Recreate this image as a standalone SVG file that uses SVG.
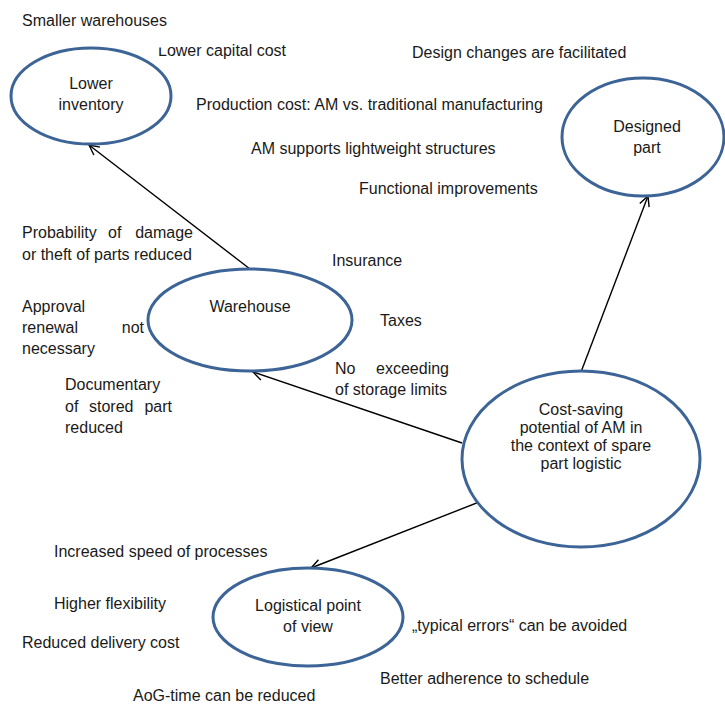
<svg xmlns="http://www.w3.org/2000/svg" width="725" height="704" viewBox="0 0 725 704">
  <style>
    text { font-family: "Liberation Sans", Arial, sans-serif; font-size: 16px; fill: #1a1a1a; }
    .c { text-anchor: middle; }
    .e { text-anchor: end; }
    .node ellipse { fill: #ffffff; stroke: #3d6496; stroke-width: 3; }
    .conn line { stroke: #000000; stroke-width: 1.4; fill: none; marker-end: url(#open); }
  </style>
  <defs>
    <marker id="open" viewBox="0 0 12 12" refX="11" refY="6" markerWidth="12" markerHeight="12" markerUnits="userSpaceOnUse" orient="auto">
      <path d="M1,1 L11,6 L1,11" fill="none" stroke="#000000" stroke-width="1.4"/>
    </marker>
    <!-- the capital L of this label is trimmed at the top -->
    <clipPath id="lowclip">
      <rect x="150" y="47.5" width="19" height="20"/>
      <rect x="169" y="30" width="200" height="40"/>
    </clipPath>
  </defs>
  <rect width="725" height="704" fill="#ffffff"/>

  <!-- connectors -->
  <g id="connectors" class="conn">
    <line x1="250" y1="269" x2="89" y2="145"/>
    <line x1="581" y1="372" x2="648" y2="196"/>
    <line x1="462" y1="443" x2="253" y2="372"/>
    <line x1="497" y1="495" x2="311" y2="568"/>
  </g>

  <!-- nodes -->
  <g id="lower-inventory" class="node">
    <ellipse cx="91" cy="96" rx="80" ry="48"/>
    <text class="c" x="91" y="89">Lower</text>
    <text class="c" x="91" y="110">inventory</text>
  </g>
  <g id="designed-part" class="node">
    <ellipse cx="643" cy="137" rx="81" ry="59"/>
    <text class="c" x="647" y="132">Designed</text>
    <text class="c" x="647" y="153">part</text>
  </g>
  <g id="warehouse" class="node">
    <ellipse cx="250" cy="320" rx="102" ry="51"/>
    <text class="c" x="250" y="312">Warehouse</text>
  </g>
  <g id="cost-saving" class="node">
    <ellipse cx="581" cy="459" rx="119" ry="88"/>
    <text class="c" x="581" y="415">Cost-saving</text>
    <text class="c" x="581" y="433">potential of AM in</text>
    <text class="c" x="581" y="451">the context of spare</text>
    <text class="c" x="581" y="469">part logistic</text>
  </g>
  <g id="logistical" class="node">
    <ellipse cx="308" cy="617" rx="95" ry="49"/>
    <text class="c" x="308" y="611">Logistical point</text>
    <text class="c" x="308" y="632">of view</text>
  </g>

  <!-- labels: lower inventory -->
  <g id="labels-inventory">
    <text x="22" y="26">Smaller warehouses</text>
    <text x="158" y="56" clip-path="url(#lowclip)">Lower capital cost</text>
  </g>

  <!-- labels: designed part -->
  <g id="labels-design">
    <text x="412" y="58">Design changes are facilitated</text>
    <text x="196" y="110">Production cost: AM vs. traditional manufacturing</text>
    <text x="251" y="154">AM supports lightweight structures</text>
    <text x="359" y="194">Functional improvements</text>
  </g>

  <!-- labels: warehouse -->
  <g id="labels-warehouse">
    <text x="22" y="238">Probability</text>
    <text x="108" y="238">of</text>
    <text class="e" x="193" y="238">damage</text>
    <text x="22" y="260">or theft of parts reduced</text>
    <text x="332" y="266">Insurance</text>
    <text x="22" y="312">Approval</text>
    <text x="22" y="333">renewal</text>
    <text class="e" x="144" y="333">not</text>
    <text x="22" y="354">necessary</text>
    <text x="380" y="326">Taxes</text>
    <text x="335" y="374">No</text>
    <text class="e" x="449" y="374">exceeding</text>
    <text x="335" y="395">of storage limits</text>
    <text x="65" y="390">Documentary</text>
    <text x="65" y="412">of</text>
    <text x="89" y="412">stored</text>
    <text class="e" x="172" y="412">part</text>
    <text x="65" y="433">reduced</text>
  </g>

  <!-- labels: logistics -->
  <g id="labels-logistics">
    <text x="54" y="557">Increased speed of processes</text>
    <text x="54" y="609">Higher flexibility</text>
    <text x="22" y="648">Reduced delivery cost</text>
    <text x="412" y="631">„typical errors“ can be avoided</text>
    <text x="380" y="684">Better adherence to schedule</text>
    <text x="133" y="701">AoG-time can be reduced</text>
  </g>
</svg>
